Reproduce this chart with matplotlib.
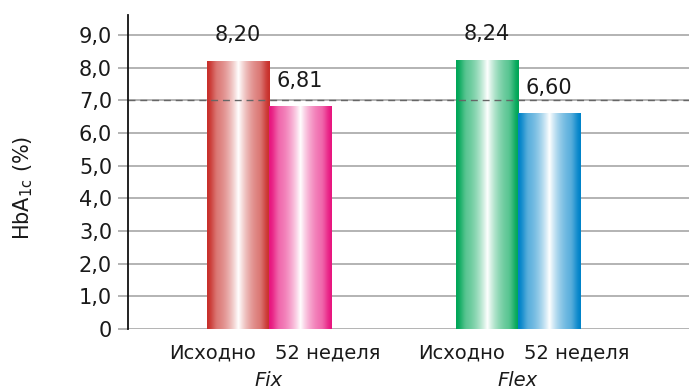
import numpy as np
import matplotlib
matplotlib.use("Agg")
import matplotlib.pyplot as plt
from matplotlib.colors import to_rgb

plt.rcParams['font.family'] = ['DejaVu Sans']

# Data
groups = ["Fix", "Flex"]
periods = ["Исходно", "52 неделя"]
baseline = [8.20, 8.24]
week52 = [6.81, 6.60]
target = 7.0
y_ticks = [0, 1, 2, 3, 4, 5, 6, 7, 8, 9]
y_ticklabels = ["0", "1,0", "2,0", "3,0", "4,0", "5,0", "6,0", "7,0", "8,0", "9,0"]
edge_colors = [["#c8302b", "#e8167f"], ["#00a657", "#0083c9"]]

W, H = 689, 389
fig = plt.figure(figsize=(W / 100, H / 100), dpi=100)
ax = fig.add_axes([128 / W, 1 - 329 / H, 1 - 128 / W, (329 - 15) / H])

width = 0.25
x = np.arange(len(groups))
TXT = '#1a1a1a'


def gradient_fill(ax, rect, color):
    """Fill a bar with a cylinder-like shading: saturated edges, white centre."""
    x0, y0 = rect.get_x(), rect.get_y()
    w, h = rect.get_width(), rect.get_height()
    t = np.linspace(0, 1, 300)
    d = np.abs(t - 0.5) / 0.5
    ramp = np.clip((1 - d) / 0.35, 0, 1)
    ramp = ramp * ramp * (3 - 2 * ramp)
    wmix = 0.30 * ramp + 0.70 * (1 - d) ** 2.2
    wmix = np.clip(wmix, 0, 1)
    c = np.array(to_rgb(color))
    img = c[None, :] + (1 - c[None, :]) * wmix[:, None]
    img = img[None, :, :]
    im = ax.imshow(img, extent=(x0, x0 + w, y0, y0 + h), aspect='auto',
                   interpolation='bilinear', zorder=2)
    im.set_clip_path(rect)


for i, (b, wk) in enumerate(zip(baseline, week52)):
    for j, (val, xpos) in enumerate([(b, x[i] - width / 2), (wk, x[i] + width / 2)]):
        bars = ax.bar(xpos, val, width, color='none', edgecolor='none', zorder=2)
        gradient_fill(ax, bars[0], edge_colors[i][j])
        ax.annotate(f"{val:.2f}".replace(".", ","), (xpos, val),
                    xytext=(0, 18.5), textcoords='offset points',
                    ha='center', va='center', fontsize=15, color=TXT)

ax.set_xlim(-0.566, 1.687)
ax.set_ylim(0, 9.61)

# target level
ax.axhline(target, color='#666666', lw=1.0, ls=(0, (5, 3.5)), zorder=3)

# grid
ax.set_yticks(y_ticks)
ax.set_yticklabels(y_ticklabels, fontsize=15, color=TXT)
ax.yaxis.grid(True, color='#b3b3b3', lw=1.4, zorder=0)
ax.set_axisbelow(True)
ax.tick_params(axis='y', length=7.5, width=1.4, color='#b3b3b3', pad=4)
ax.set_xticks([])

for s in ['top', 'right', 'bottom']:
    ax.spines[s].set_visible(False)
ax.spines['left'].set_color('#111111')
ax.spines['left'].set_linewidth(1.3)
ax.spines['left'].set_zorder(4)

# category labels
for i, g in enumerate(groups):
    ax.annotate(periods[0], (x[i], 0), xytext=(-9, -17), textcoords='offset points',
                ha='right', va='center', fontsize=14, color=TXT)
    ax.annotate(periods[1], (x[i], 0), xytext=(4.5, -17), textcoords='offset points',
                ha='left', va='center', fontsize=14, color=TXT)
    ax.annotate(g, (x[i], 0), xytext=(0, -37), textcoords='offset points',
                ha='center', va='center', fontsize=14, style='italic', color=TXT,
                annotation_clip=False)

fig.text(23 / W, 1 - 188 / H, r"HbA$_{\mathregular{1c}}$ (%)", rotation=90,
         ha='center', va='center', fontsize=15, color=TXT)

fig.savefig("out.png", dpi=100)
